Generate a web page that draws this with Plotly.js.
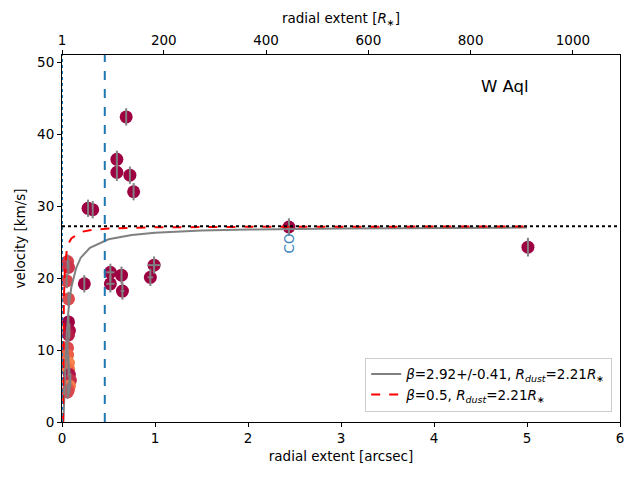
<!DOCTYPE html>
<html>
<head>
<meta charset="utf-8">
<script src="https://cdn.plot.ly/plotly-3.0.1.min.js"></script>
<style>
  html, body { margin: 0; padding: 0; background: #fff; }
  #graph { width: 640px; height: 480px; }
</style>
</head>
<body>
<div id="graph"></div>
<script>
// observed points (arcsec, km/s)
var obsX    = [0.24, 0.28, 0.33, 0.52, 0.52, 0.59, 0.59, 0.64, 0.65, 0.69, 0.73, 0.77, 0.95, 0.99, 2.44, 5.01];
var obsY    = [19.2, 29.7, 29.5, 20.8, 19.2, 36.5, 34.7, 20.4, 18.2, 42.4, 34.3, 32.0, 20.1, 21.8, 27.1, 24.3];
var obsYerr = [1.2, 1.2, 1.2, 1.2, 1.2, 1.2, 1.2, 1.2, 1.2, 1.2, 1.2, 1.2, 1.2, 1.2, 1.2, 1.3];
var obsXerr = [0, 0, 0, 0.045, 0.045, 0, 0, 0, 0.02, 0, 0, 0, 0.03, 0.07, 0, 0];

// inner points near the star, coloured by a tracer value
var innerX    = [0.06, 0.07, 0.05, 0.07, 0.07, 0.08, 0.07, 0.06, 0.06, 0.07, 0.07, 0.08, 0.09, 0.08, 0.07, 0.06];
var innerY    = [22.3, 21.5, 19.6, 17.1, 13.9, 12.7, 12.1, 10.3, 9.3, 8.2, 7.3, 6.6, 5.8, 5.0, 4.5, 4.2];
var innerC    = [0.35, 0.3, 0.4, 0.45, 0.0, 0.05, 0.15, 0.45, 0.6, 0.85, 0.7, 0.1, 0.25, 0.8, 0.55, 0.4];
var innerYerr = [1.0, 1.0, 1.0, 1.0, 1.0, 1.0, 1.0, 1.0, 1.0, 1.0, 1.0, 1.0, 1.0, 1.0, 1.0, 1.0];

// fitted beta-law curve (grey) and beta=0.5 curve (red)
var fitX = [0.0122, 0.015, 0.02, 0.03, 0.04, 0.05, 0.07, 0.1, 0.15, 0.2, 0.3, 0.46, 0.5, 0.75, 1.0, 1.5, 2.0, 3.0, 4.0, 5.0];
var fitY = [0.0, 0.2, 1.8, 6.0, 9.5, 12.1, 15.6, 18.7, 21.3, 22.8, 24.2, 25.2, 25.4, 26.0, 26.3, 26.6, 26.75, 26.9, 26.97, 27.02];
var b05X = [0.0122, 0.013, 0.015, 0.02, 0.03, 0.05, 0.07, 0.1, 0.2, 0.3, 0.5, 1.0, 2.0, 3.0, 5.0];
var b05Y = [0.0, 6.9, 11.8, 17.0, 21.0, 23.7, 24.8, 25.5, 26.4, 26.65, 26.9, 27.05, 27.12, 27.15, 27.17];

var vInf = 27.2;      // terminal velocity (black dotted)
var rDustX = 0.46;    // dust condensation radius marker (blue dashed)
var starX = 0;        // stellar position (blue dotted)

var topTicks = [1, 200, 400, 600, 800, 1000];
var topRange = [1, 1092];

var font = 'DejaVu Sans, sans-serif';

var errStyle = {type: 'data', color: '#808080', thickness: 2, width: 0};
var clear = {size: 13, color: 'rgba(0,0,0,0)'};

var data = [
  {
    x: innerX, y: innerY, mode: 'markers', type: 'scatter', showlegend: false, hoverinfo: 'skip',
    marker: {size: 13, color: innerC, cmin: 0, cmax: 1,
             colorscale: [[0, '#9e0142'], [0.35, '#d53e4f'], [0.7, '#f46d43'], [1, '#f99a57']]}
  },
  {
    x: obsX, y: obsY, mode: 'markers', type: 'scatter', showlegend: false, hoverinfo: 'skip',
    marker: {size: 13, color: '#9e0142'}
  },
  // error bars drawn over the markers, as in the original
  {
    x: innerX, y: innerY, mode: 'markers', type: 'scatter', showlegend: false, hoverinfo: 'skip',
    error_y: Object.assign({array: innerYerr}, errStyle), marker: clear
  },
  {
    x: obsX, y: obsY, mode: 'markers', type: 'scatter', showlegend: false, hoverinfo: 'skip',
    error_y: Object.assign({array: obsYerr}, errStyle),
    error_x: Object.assign({array: obsXerr}, errStyle), marker: clear
  },
  {
    x: fitX, y: fitY, mode: 'lines', type: 'scatter',
    name: '<i>β</i>=2.92+/-0.41, <i>R<sub>dust</sub></i>=2.21<i>R</i><sub>∗</sub>',
    line: {color: '#808080', width: 2}
  },
  {
    x: b05X, y: b05Y, mode: 'lines', type: 'scatter',
    name: '<i>β</i>=0.5, <i>R<sub>dust</sub></i>=2.21<i>R</i><sub>∗</sub>',
    line: {color: '#ff0000', width: 2, dash: 'dash'}
  },
  // carrier for the top axis
  {
    x: topRange, y: [null, null], xaxis: 'x2', yaxis: 'y', mode: 'markers', type: 'scatter',
    showlegend: false, hoverinfo: 'skip', marker: {opacity: 0}
  }
];

var axisBase = {
  showline: true, linecolor: '#000', linewidth: 1,
  ticks: 'outside', ticklen: 4, tickwidth: 1, tickcolor: '#000',
  showgrid: false, zeroline: false,
  tickfont: {family: font, size: 13.5, color: '#000'}
};

var layout = {
  width: 640, height: 480,
  margin: {l: 62, r: 20, t: 55, b: 58},
  paper_bgcolor: '#fff', plot_bgcolor: '#fff',
  font: {family: font, size: 13.5, color: '#000'},
  xaxis: Object.assign({}, axisBase, {
    range: [0, 6], dtick: 1, tick0: 0,
    title: {text: 'radial extent [arcsec]', font: {family: font, size: 13.5}, standoff: 6}
  }),
  xaxis2: Object.assign({}, axisBase, {
    overlaying: 'x', side: 'top', range: topRange, tickvals: topTicks, anchor: 'y',
    title: {text: 'radial extent [<i>R</i><sub>∗</sub>]', font: {family: font, size: 13.5}, standoff: 4}
  }),
  yaxis: Object.assign({}, axisBase, {
    range: [0, 51], dtick: 10, tick0: 0, mirror: true,
    title: {text: 'velocity [km/s]', font: {family: font, size: 13.5}, standoff: 8}
  }),
  showlegend: true,
  legend: {
    x: 0.986, y: 0.028, xanchor: 'right', yanchor: 'bottom',
    bgcolor: 'rgba(255,255,255,0.8)', bordercolor: '#cccccc', borderwidth: 1,
    font: {family: font, size: 13.5}, itemwidth: 30, tracegroupgap: 0
  },
  shapes: [
    {type: 'line', xref: 'x', yref: 'paper', x0: rDustX, x1: rDustX, y0: 0, y1: 1,
     line: {color: '#1f77b4', width: 2, dash: 'dash'}, layer: 'above'},
    {type: 'line', xref: 'x', yref: 'paper', x0: starX, x1: starX, y0: 0, y1: 1,
     line: {color: '#1f77b4', width: 2, dash: 'dot'}, layer: 'above'},
    {type: 'line', xref: 'paper', yref: 'y', x0: 0, x1: 1, y0: vInf, y1: vInf,
     line: {color: '#000', width: 2, dash: 'dot'}, layer: 'above'}
  ],
  annotations: [
    {xref: 'paper', yref: 'paper', x: 0.794, y: 0.913, xanchor: 'center', yanchor: 'middle',
     text: 'W Aql', showarrow: false, font: {family: font, size: 16.5, color: '#000'}},
    {xref: 'x', yref: 'y', x: 2.44, y: 24.8, xanchor: 'center', yanchor: 'middle',
     text: 'CO', textangle: -90, showarrow: false,
     font: {family: font, size: 13.5, color: '#3d85c0'}}
  ]
};

Plotly.newPlot('graph', data, layout, {staticPlot: true});
</script>
</body>
</html>
